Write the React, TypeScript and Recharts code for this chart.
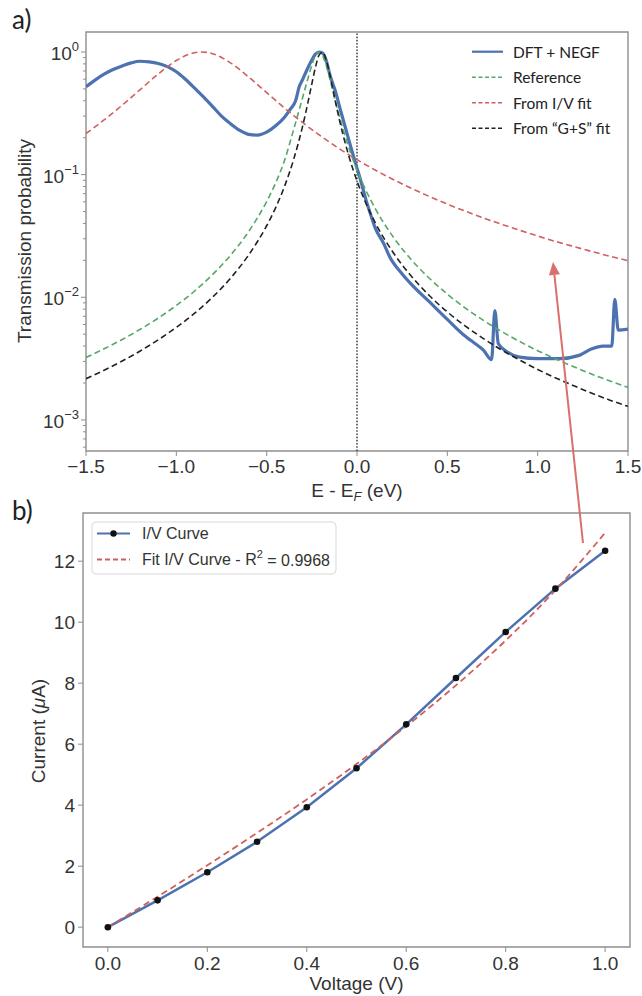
import React from 'react';
import { LineChart, Line, XAxis, YAxis, ReferenceLine, ReferenceArea } from 'recharts';

// ---------- Panel a) transmission ----------
const dftE = [-1.5, -1.45, -1.4, -1.35, -1.3, -1.25, -1.2, -1.15, -1.1, -1.05, -1.0, -0.95, -0.9, -0.85, -0.8, -0.75, -0.7, -0.65, -0.6, -0.55, -0.5, -0.45, -0.4, -0.37, -0.34, -0.32, -0.3, -0.28, -0.25, -0.23, -0.21, -0.19, -0.17, -0.15, -0.12, -0.09, -0.04, 0.0, 0.02, 0.05, 0.07, 0.1, 0.15, 0.18, 0.25, 0.3, 0.4, 0.5, 0.6, 0.625, 0.7, 0.745, 0.763, 0.782, 0.83, 0.9, 1.0, 1.12, 1.23, 1.3, 1.36, 1.41, 1.427, 1.446, 1.5];
const dftT = [0.52, 0.59, 0.66, 0.72, 0.77, 0.815, 0.84, 0.83, 0.805, 0.76, 0.69, 0.6, 0.51, 0.43, 0.36, 0.3, 0.26, 0.23, 0.213, 0.21, 0.222, 0.25, 0.295, 0.34, 0.4, 0.52, 0.6, 0.7, 0.86, 0.96, 1.0, 0.98, 0.85, 0.65, 0.48, 0.33, 0.18, 0.113, 0.09, 0.062, 0.05, 0.037, 0.027, 0.0215, 0.0155, 0.0128, 0.0092, 0.0066, 0.0048, 0.0045, 0.0037, 0.0031, 0.0078, 0.0042, 0.0036, 0.00325, 0.00316, 0.00316, 0.00336, 0.0038, 0.004, 0.004, 0.0096, 0.0054, 0.0055];

const fitE = [-1.5, -1.4, -1.3, -1.2, -1.1, -1.0, -0.9, -0.8, -0.7, -0.6, -0.5, -0.45, -0.4, -0.35, -0.3, -0.27, -0.25, -0.23, -0.21, -0.19, -0.17, -0.15, -0.12, -0.1, -0.05, 0.0, 0.05, 0.1, 0.2, 0.3, 0.4, 0.5, 0.6, 0.7, 0.8, 0.9, 1.0, 1.1, 1.2, 1.3, 1.4, 1.5];
const referenceT = [0.00323, 0.0038, 0.00452, 0.00548, 0.00677, 0.00858, 0.0112, 0.0153, 0.022, 0.0343, 0.0603, 0.0857, 0.132, 0.235, 0.43, 0.62, 0.78, 0.935, 1.0, 0.931, 0.771, 0.6, 0.4, 0.309, 0.174, 0.109, 0.074, 0.0532, 0.0311, 0.0203, 0.0143, 0.0106, 0.00816, 0.00648, 0.00527, 0.00436, 0.00367, 0.00314, 0.00271, 0.00236, 0.00208, 0.00184];
const gsFitT = [0.00217, 0.00254, 0.00302, 0.00365, 0.0045, 0.00568, 0.00739, 0.01, 0.0143, 0.0221, 0.0383, 0.0539, 0.081, 0.134, 0.252, 0.397, 0.55, 0.751, 0.943, 0.993, 0.855, 0.646, 0.397, 0.291, 0.15, 0.0887, 0.0581, 0.0408, 0.0232, 0.0149, 0.01034, 0.0076, 0.00582, 0.0046, 0.00372, 0.00308, 0.00258, 0.0022, 0.0019, 0.00165, 0.00145, 0.00129];

const ivFitE = [-1.5, -1.4, -1.3, -1.2, -1.1, -1.0, -0.9, -0.86, -0.8, -0.7, -0.6, -0.5, -0.4, -0.3, -0.2, -0.1, 0.0, 0.1, 0.2, 0.3, 0.4, 0.5, 0.6, 0.7, 0.8, 0.9, 1.0, 1.1, 1.2, 1.3, 1.4, 1.5];
const ivFitT = [0.216, 0.279, 0.368, 0.494, 0.662, 0.852, 0.986, 1.0, 0.969, 0.815, 0.625, 0.466, 0.348, 0.265, 0.206, 0.1635, 0.1324, 0.1091, 0.0913, 0.0774, 0.0664, 0.0575, 0.0503, 0.0443, 0.0394, 0.0352, 0.0316, 0.0285, 0.0259, 0.0236, 0.0216, 0.0199];

const eTicks = [-1.5, -1.0, -0.5, 0.0, 0.5, 1.0, 1.5];
const tMajorTicks = [0.001, 0.01, 0.1, 1];
const T_MIN = 5.58e-4;
const T_MAX = 1.455;

// ---------- Panel b) I/V ----------
const voltage = [0, 0.1, 0.2, 0.3, 0.4, 0.5, 0.6, 0.7, 0.8, 0.9, 1.0];
const currentIV = [0, 0.88, 1.8, 2.8, 3.93, 5.21, 6.65, 8.17, 9.68, 11.1, 12.34];
const currentFit = [0, 1.0, 2.03, 3.09, 4.19, 5.35, 6.59, 7.93, 9.4, 11.05, 12.93];
const vTicks = [0, 0.2, 0.4, 0.6, 0.8, 1.0];
const iTicks = [0, 2, 4, 6, 8, 10, 12];

// ---------- style ----------
const FONT = '"Liberation Sans", Arial, sans-serif';
const LEG_FONT = 'Lato, "Open Sans", sans-serif';
const AXIS = '#8e8e8e';
const TEXT = '#333333';
const BLUE = '#4c72b0';
const GREEN = '#55a868';
const RED = '#d0605e';
const BLACK = '#222222';

const rows = (xs: number[], ys: number[]) => xs.map((x, i) => ({ x, y: ys[i] }));

const minorTicks: number[] = [];
for (let k = -4; k <= 0; k++) {
  for (let m = 2; m <= 9; m++) {
    const v = m * Math.pow(10, k);
    if (v >= T_MIN && v <= T_MAX) minorTicks.push(v);
  }
}
const tTicks = [...tMajorTicks, ...minorTicks].sort((a, b) => a - b);

const fmtMinus = (v: number) => v.toFixed(1).replace('-', '\u2212');

const LogTick = (props: any) => {
  const { x, y, payload } = props;
  const lg = Math.log10(payload.value);
  const exp = Math.round(lg);
  const major = Math.abs(lg - exp) < 1e-6;
  return (
    <g>
      <line x1={x - (major ? 5 : 3)} x2={x} y1={y} y2={y} stroke={AXIS} strokeWidth={1} />
      {major && (
        <text x={x - 7} y={y + 8} textAnchor="end" fill={TEXT} fontSize={19} fontFamily={FONT}>
          <tspan>10</tspan>
          <tspan dy={-9} fontSize={13}>{exp < 0 ? '\u2212' + -exp : String(exp)}</tspan>
        </text>
      )}
    </g>
  );
};

const topSeries = [
  { name: 'DFT + NEGF', color: BLUE, dash: undefined as string | undefined, width: 2.2 },
  { name: 'Reference', color: GREEN, dash: '4 2.5', width: 1.6 },
  { name: 'From I/V fit', color: RED, dash: '4 2.5', width: 1.6 },
  { name: 'From \u201cG+S\u201d fit', color: BLACK, dash: '4 2.5', width: 1.6 },
];

export default function App() {
  return (
    <div style={{ position: 'absolute', left: 0, top: 0, width: 642, height: 996, background: '#fff', overflow: 'hidden' }}>
      <div style={{ position: 'absolute', left: 0, top: 0 }}>
        <LineChart width={642} height={510} margin={{ top: 32, right: 14, bottom: 0, left: 0 }}>
          <XAxis
            type="number"
            dataKey="x"
            domain={[-1.5, 1.5]}
            ticks={eTicks}
            interval={0}
            allowDataOverflow
            axisLine={false}
            tickLine={{ stroke: AXIS }}
            tickSize={5}
            tickMargin={4}
            height={59}
            tickFormatter={fmtMinus}
            tick={{ fill: TEXT, fontSize: 19, fontFamily: FONT }}
          />
          <YAxis
            type="number"
            scale="log"
            domain={[T_MIN, T_MAX]}
            allowDataOverflow
            ticks={tTicks}
            interval={0}
            width={86}
            axisLine={false}
            tickLine={false}
            tickSize={0}
            tickMargin={0}
            tick={(p: any) => <LogTick {...p} />}
          />
          <ReferenceArea x1={-1.5} x2={1.5} y1={T_MIN} y2={T_MAX} fill="none" stroke={AXIS} strokeWidth={1.4} ifOverflow="visible" />
          <ReferenceLine x={0} stroke="#333" strokeDasharray="1.6 1.6" strokeWidth={1.4} />
          <Line data={rows(dftE, dftT)} dataKey="y" type="monotone" stroke={BLUE} strokeWidth={3.2} dot={false} isAnimationActive={false} />
          <Line data={rows(fitE, referenceT)} dataKey="y" type="monotone" stroke={GREEN} strokeWidth={1.6} strokeDasharray="6 3.5" dot={false} isAnimationActive={false} />
          <Line data={rows(ivFitE, ivFitT)} dataKey="y" type="monotone" stroke={RED} strokeWidth={1.6} strokeDasharray="6 3.5" dot={false} isAnimationActive={false} />
          <Line data={rows(fitE, gsFitT)} dataKey="y" type="monotone" stroke={BLACK} strokeWidth={1.6} strokeDasharray="6 3.5" dot={false} isAnimationActive={false} />
        </LineChart>
      </div>

      <div style={{ position: 'absolute', left: 0, top: 490 }}>
        <LineChart width={642} height={506} margin={{ top: 23, right: 12, bottom: 0, left: 0 }}>
          <XAxis
            type="number"
            dataKey="x"
            domain={[-0.05, 1.05]}
            ticks={vTicks}
            interval={0}
            allowDataOverflow
            axisLine={false}
            tickLine={{ stroke: AXIS }}
            tickSize={5}
            tickMargin={5}
            height={49}
            tickFormatter={(v: number) => v.toFixed(1)}
            tick={{ fill: TEXT, fontSize: 19, fontFamily: FONT }}
          />
          <YAxis
            type="number"
            domain={[-0.65, 13.58]}
            allowDataOverflow
            ticks={iTicks}
            interval={0}
            width={83}
            axisLine={false}
            tickLine={{ stroke: AXIS }}
            tickSize={5}
            tickMargin={3}
            tick={{ fill: TEXT, fontSize: 19, fontFamily: FONT }}
          />
          <ReferenceArea x1={-0.05} x2={1.05} y1={-0.65} y2={13.58} fill="none" stroke={AXIS} strokeWidth={1.4} ifOverflow="visible" />
          <Line data={rows(voltage, currentIV)} dataKey="y" type="linear" stroke={BLUE} strokeWidth={2.5} dot={{ r: 3.3, fill: '#111', stroke: '#111', strokeWidth: 0 }} isAnimationActive={false} />
          <Line data={rows(voltage, currentFit)} dataKey="y" type="monotone" stroke={RED} strokeWidth={1.8} strokeDasharray="6.5 4" dot={false} isAnimationActive={false} />
        </LineChart>
      </div>

      <svg width={642} height={996} style={{ position: 'absolute', left: 0, top: 0, pointerEvents: 'none' }}>
        <text x={12} y={29} fontSize={26} fontFamily={LEG_FONT} fill="#222">a)</text>
        <text x={12} y={520} fontSize={26} fontFamily={LEG_FONT} fill="#222">b)</text>

        <text x={31} y={241} transform="rotate(-90 31 241)" textAnchor="middle" fontSize={19} fontFamily={FONT} fill={TEXT}>Transmission probability</text>
        <text x={357} y={497} textAnchor="middle" fontSize={19} fontFamily={FONT} fill={TEXT}>
          E - E<tspan fontSize={13} fontStyle="italic" dy={4}>F</tspan><tspan dy={-4}>{'\u00a0(eV)'}</tspan>
        </text>
        <text x={45} y={731} transform="rotate(-90 45 731)" textAnchor="middle" fontSize={19} fontFamily={FONT} fill={TEXT}>
          Current (<tspan fontStyle="italic">{'\u03bc'}</tspan>A)
        </text>
        <text x={356.5} y={990} textAnchor="middle" fontSize={19} fontFamily={FONT} fill={TEXT}>Voltage (V)</text>

        {topSeries.map((s, i) => (
          <g key={s.name}>
            <line x1={472} x2={503} y1={51.7 + i * 25.5} y2={51.7 + i * 25.5} stroke={s.color} strokeWidth={s.width} strokeDasharray={s.dash} />
            <text x={513} y={51.7 + i * 25.5} dominantBaseline="central" fontSize={15.5} fontFamily={LEG_FONT} fill="#222">{s.name}</text>
          </g>
        ))}

        <rect x={92} y={522} width={244} height={52} rx={4} fill="#fff" fillOpacity={0.85} stroke="#d9d9d9" strokeWidth={1} />
        <line x1={97} x2={130} y1={533.5} y2={533.5} stroke={BLUE} strokeWidth={2.2} />
        <circle cx={113.5} cy={533.5} r={3.2} fill="#111" />
        <text x={142} y={533.5} dominantBaseline="central" fontSize={16} fontFamily={FONT} fill={TEXT}>I/V Curve</text>
        <line x1={97} x2={130} y1={559.5} y2={559.5} stroke={RED} strokeWidth={1.8} strokeDasharray="5 3" />
        <text x={142} y={559.5} dominantBaseline="central" fontSize={16} fontFamily={FONT} fill={TEXT}>
          Fit I/V Curve - R<tspan fontSize={11} dy={-6}>2</tspan><tspan dy={6}>{'\u00a0= 0.9968'}</tspan>
        </text>

        <line x1={583} y1={543} x2={554.4} y2={274.9} stroke="#d9706e" strokeWidth={2} />
        <polygon points="553,262 559.9,274.3 548.9,275.5" fill="#d9706e" />
      </svg>
    </div>
  );
}
